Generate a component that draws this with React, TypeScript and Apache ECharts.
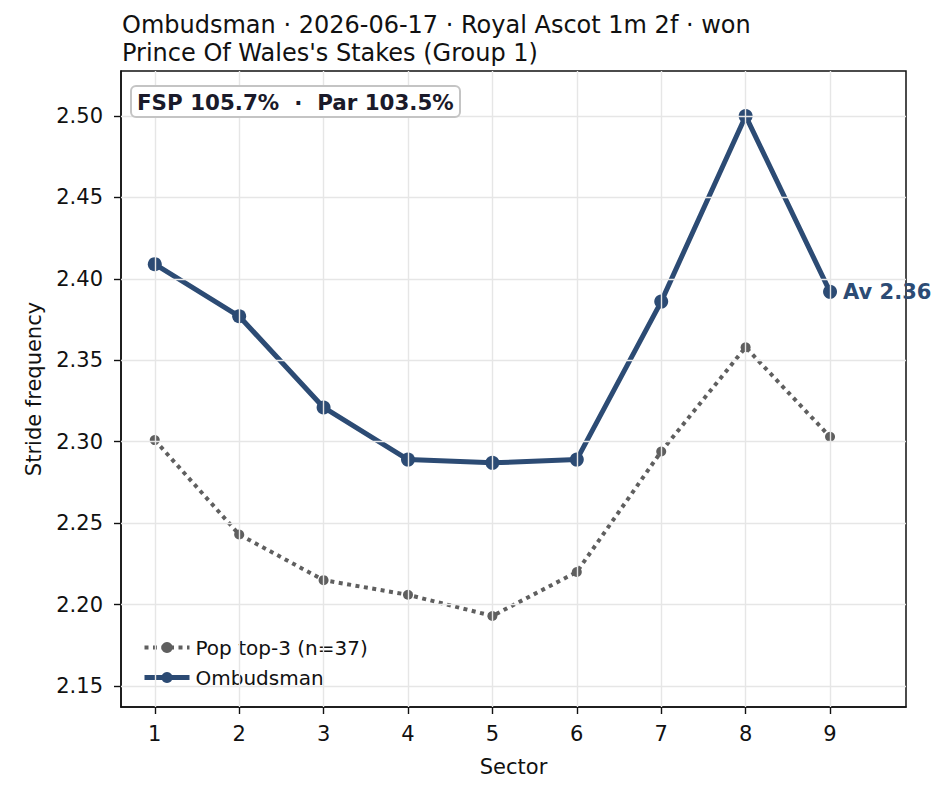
import React, { useEffect, useRef } from "react";
import * as echarts from "echarts";

const sectors = [1, 2, 3, 4, 5, 6, 7, 8, 9];
const ombudsman = [2.409, 2.377, 2.321, 2.289, 2.287, 2.289, 2.386, 2.5, 2.392];
const popTop3 = [2.301, 2.243, 2.215, 2.206, 2.193, 2.22, 2.294, 2.358, 2.303];
const yTicks = [2.15, 2.2, 2.25, 2.3, 2.35, 2.4, 2.45, 2.5];
const titleText = "Ombudsman · 2026-06-17 · Royal Ascot 1m 2f · won\nPrince Of Wales's Stakes (Group 1)";
const boxText = "FSP 105.7%  ·  Par 103.5%";
const avLabel = "Av 2.36";

const NAVY = "#2c4b74";
const GREY = "#5f5f5f";
const FONT = "DejaVu Sans";

export default function App() {
  const ref = useRef<HTMLDivElement>(null);
  useEffect(() => {
    if (!ref.current) return;
    const chart = echarts.init(ref.current, undefined, { renderer: "svg" });
    const grid = { left: 121, top: 71, right: 34, bottom: 81 };
    const gridLines = [
      ...sectors.map((s) => ({ xAxis: s })),
      ...yTicks.map((v) => ({ yAxis: v })),
    ];
    const ombData = ombudsman.map((v, i) =>
      i === ombudsman.length - 1
        ? {
            value: [sectors[i], v],
            label: {
              show: true,
              position: "right",
              distance: 6,
              formatter: avLabel,
              fontWeight: "bold",
              fontSize: 21,
              color: NAVY,
              fontFamily: FONT,
            },
          }
        : { value: [sectors[i], v] }
    );
    chart.setOption({
      animation: false,
      backgroundColor: "#fff",
      textStyle: { fontFamily: FONT },
      title: [
        {
          text: titleText,
          left: 117,
          top: 6,
          textStyle: { fontSize: 24, fontWeight: "normal", color: "#111", lineHeight: 28, fontFamily: FONT },
        },
        {
          text: boxText,
          left: 131,
          top: 86,
          padding: [5, 6, 4, 6],
          backgroundColor: "#fff",
          borderColor: "#c4c4c4",
          borderWidth: 2,
          borderRadius: 5,
          textStyle: { fontSize: 21.4, fontWeight: "bold", color: "#1a1a2a", lineHeight: 22, fontFamily: FONT },
        },
      ],
      legend: {
        data: [
          { name: "Pop top-3 (n=37)", lineStyle: { width: 4, type: [4, 4.5], color: GREY } },
          { name: "Ombudsman", lineStyle: { width: 5, color: NAVY } },
        ],
        orient: "vertical",
        left: 137,
        top: 631,
        itemWidth: 45,
        itemHeight: 14,
        itemGap: 7,
        textStyle: { fontSize: 20, color: "#111", lineHeight: 23, padding: [0, 0, 0, 1], fontFamily: FONT },
      },
      grid: { ...grid, show: true, borderColor: "#111", borderWidth: 1.5, backgroundColor: "transparent" },
      xAxis: {
        type: "value",
        min: 0.6,
        max: 9.9,
        name: "Sector",
        nameLocation: "middle",
        nameGap: 49,
        nameTextStyle: { fontSize: 21, color: "#111", fontFamily: FONT },
        axisLine: { show: true, lineStyle: { color: "#111", width: 1.5 } },
        axisTick: { show: true, length: 7, lineStyle: { color: "#111", width: 1.4 }, customValues: sectors },
        axisLabel: { fontSize: 21, color: "#111", margin: 16, customValues: sectors, formatter: (v: number) => String(v) },
        splitLine: { show: false },
      },
      yAxis: {
        type: "value",
        min: 2.1371,
        max: 2.5276,
        name: "Stride frequency",
        nameLocation: "middle",
        nameGap: 77,
        nameTextStyle: { fontSize: 21, color: "#111", fontFamily: FONT },
        axisLine: { show: true, lineStyle: { color: "#111", width: 1.5 } },
        axisTick: { show: true, length: 7, lineStyle: { color: "#111", width: 1.4 }, customValues: yTicks },
        axisLabel: { fontSize: 21, color: "#111", margin: 18, customValues: yTicks, formatter: (v: number) => v.toFixed(2) },
        splitLine: { show: false },
      },
      series: [
        {
          name: "grid",
          type: "line",
          data: [],
          silent: true,
          z: 1,
          markLine: {
            silent: true,
            symbol: ["none", "none"],
            label: { show: false },
            lineStyle: { color: "#e6e6e6", width: 1.4, type: "solid" },
            data: gridLines,
          },
        },
        {
          name: "Pop top-3 (n=37)",
          type: "line",
          z: 3,
          data: popTop3.map((v, i) => [sectors[i], v]),
          symbol: "circle",
          symbolSize: 10,
          itemStyle: { color: GREY },
          lineStyle: { color: GREY, width: 4, type: [4, 4.5], cap: "butt" },
        },
        {
          name: "Ombudsman",
          type: "line",
          z: 4,
          data: ombData,
          symbol: "circle",
          symbolSize: 14,
          itemStyle: { color: NAVY },
          lineStyle: { color: NAVY, width: 5 },
        },
      ],
    });
    return () => chart.dispose();
  }, []);
  return <div ref={ref} style={{ position: "absolute", left: 0, top: 0, width: 940, height: 788 }} />;
}
